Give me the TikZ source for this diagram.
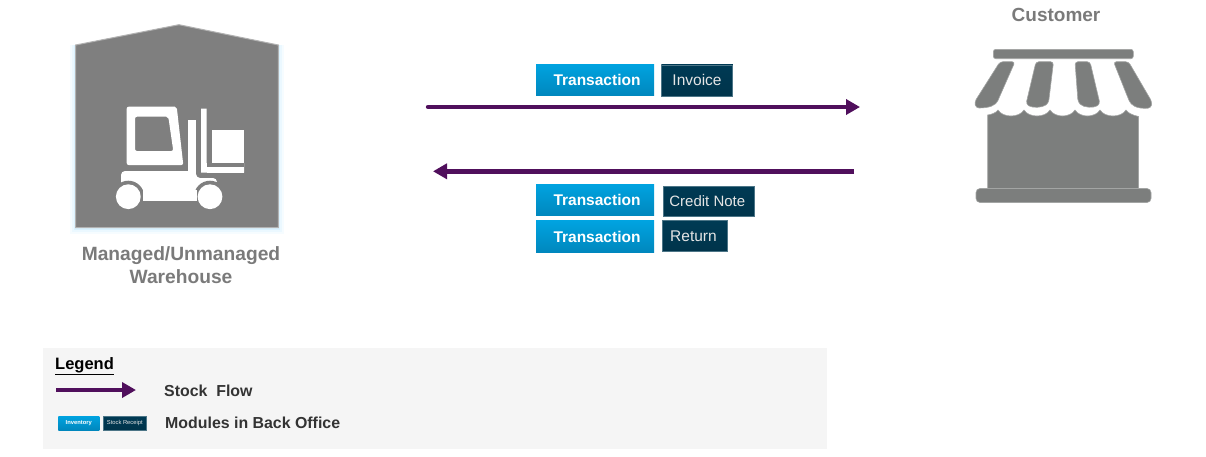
\documentclass[tikz,border=0pt]{standalone}
\usepackage{fontspec}
\setmainfont{Liberation Sans}
\usetikzlibrary{arrows.meta}
\definecolor{flow}{HTML}{500F5C}
\definecolor{bluebox}{HTML}{00A3E0}
\definecolor{blueboxb}{HTML}{0087BD}
\definecolor{darkbox}{HTML}{003A54}
\definecolor{darkboxb}{HTML}{00344B}
\definecolor{icongrey}{HTML}{7F7F7F}
\definecolor{shopgrey}{HTML}{7C7E7D}
\definecolor{labelgrey}{HTML}{7A7A7A}
\definecolor{legendbg}{HTML}{F5F5F5}
\definecolor{legendtext}{HTML}{333333}
\tikzset{
  x=1pt,y=-1pt,
  txbox/.style={inner sep=0pt,outer sep=0pt,minimum width=118pt,minimum height=31.5pt,
    top color=bluebox,middle color=bluebox,bottom color=blueboxb,text=white,
    font=\fontsize{15.5}{17}\selectfont\bfseries},
  docbox/.style={inner sep=0pt,outer sep=0pt,minimum height=31pt,draw=darkbox!70!white,line width=.6pt,
    top color=darkbox,bottom color=darkboxb,text=white!90!black,font=\fontsize{15.5}{17}\selectfont},
  flowline/.style={draw=flow,line width=4.4pt,-{Triangle[length=14pt,width=15pt]}},
  iconlabel/.style={inner sep=0pt,text=labelgrey,align=center,font=\fontsize{19.2}{23}\selectfont\bfseries},
  legendlabel/.style={inner sep=0pt,anchor=west,text=legendtext,font=\fontsize{15.9}{18}\selectfont\bfseries},
  whitepart/.style={fill=white,draw=none},
  shoppart/.style={fill=shopgrey,draw=shopgrey!70!white,line width=.6pt,rounded corners=2.5pt},
}
\begin{document}
\begin{tikzpicture}
\useasboundingbox (0,0) rectangle (1206,456);
% warehouse glow
\foreach \g/\o in {6/.06,4/.08,2/.12}{
  \fill[blue!35!cyan!60!white,opacity=\o] (75.7-\g,45) -- (278.3+\g,45) -- (278.3+\g,227.7+\g) -- (75.7-\g,227.7+\g) -- cycle;
}
% warehouse
\draw[fill=icongrey,draw=black!30,line width=1pt] (75.7,45) -- (179,24.7) -- (278.3,45) -- (278.3,227.7) -- (75.7,227.7) -- cycle;
% forklift
\fill[whitepart,rounded corners=2pt,even odd rule]
  (126.7,106.7) -- (176.7,106.7) -- (183.3,165) -- (126.7,165) -- cycle
  (135,116.7) -- (168.3,116.7) -- (173.3,151) -- (135,151) -- cycle;
\fill[whitepart] (187.7,120) rectangle (195.7,175);
\fill[whitepart] (201,108.7) -- (206.5,108.7) -- (206.5,163) -- (244,163) -- (244,172.5) -- (201,172.5) -- cycle;
\fill[icongrey] (206.5,158) rectangle (244,166.7);
\fill[whitepart] (206.5,166.7) rectangle (244,172.5);
\fill[whitepart] (211.5,130) rectangle (244,162.7);
\fill[whitepart,rounded corners=4pt] (121,186) -- (121,171) -- (196,171) -- (196,178) -- (217,178) -- (217,186) -- (200,200.7) -- (125,200.7) -- cycle;
\fill[icongrey] (128.3,196.7) circle (16);
\fill[icongrey] (210,196.7) circle (16);
\fill[whitepart] (143,190) rectangle (197,200.7);
\fill[whitepart] (128.3,196.7) circle (12.4);
\fill[whitepart] (210,196.7) circle (12.4);
% shop
\path[shoppart] (993.3,49.3) rectangle (1133.3,58.7);
\path[shoppart,rounded corners=3pt] (1000,61.7) -- (1015,61.7) -- (999,98) .. controls (996,105) and (990,108) .. (976,108) -- (974.5,102) -- cycle;
\path[shoppart,rounded corners=3pt] (1036,61.7) -- (1053.5,61.7) -- (1048.5,103) .. controls (1042,108) and (1032,108) .. (1026,104) -- cycle;
\path[shoppart,rounded corners=3pt] (1075,61.7) -- (1090,61.7) -- (1100,104) .. controls (1094,108) and (1084,108) .. (1078,102) -- cycle;
\path[shoppart,rounded corners=3pt] (1113.5,61.7) -- (1128.5,61.7) -- (1152,102) -- (1151,108) .. controls (1136,109) and (1131,105) .. (1128,98) -- cycle;
\path[fill=shopgrey,draw=shopgrey!70!white,line width=.6pt] (987.7,115) .. controls (991,114.5) and (996,113) .. (998,110)
  .. controls (1003,118) and (1019,118) .. (1024,110)
  .. controls (1029,118) and (1045,118) .. (1050,110)
  .. controls (1055,118) and (1070,118) .. (1075,110)
  .. controls (1080,118) and (1095,118) .. (1100,110)
  .. controls (1105,118) and (1121,118) .. (1126,110)
  .. controls (1128,113) and (1132,115) .. (1138.5,116.5)
  -- (1138.5,190) -- (987.7,190) -- cycle;
\path[shoppart,rounded corners=4pt] (976,188.5) rectangle (1151,202.5);
% labels
\node[iconlabel] (wh) at (181,265.5) {Managed/Unmanaged\\Warehouse};
\node[iconlabel,font=\fontsize{19}{23}\selectfont\bfseries] (cust) at (1056,15) {Customer};
% modules
\node[txbox] (t1) at (595,79.9) {\hspace*{4pt}\raisebox{-1pt}{Transaction}};
\node[docbox,minimum width=71.5pt] (d1) at (697,80.4) {\raisebox{-1pt}{Invoice}};
\node[txbox] (t2) at (595,200) {\hspace*{4pt}\raisebox{-2pt}{Transaction}};
\node[docbox,minimum width=91pt,minimum height=30pt,font=\fontsize{15}{17}\selectfont] (d2) at (708.8,201) {\hspace*{-3pt}Credit Note};
\node[txbox] (t3) at (595,236.7) {\hspace*{4pt}\raisebox{-2.5pt}{Transaction}};
\node[docbox,minimum width=64.5pt] (d3) at (695,236) {\hspace*{-3pt}\raisebox{-1pt}{Return}};
% flows
\coordinate (a1s) at (428,107);
\coordinate (a1e) at (860,107);
\coordinate (a2s) at (854,171.3);
\coordinate (a2e) at (433,171.3);
\draw[flowline,line cap=round] (a1s) -- (a1e);
\draw[flowline] (a2s) -- (a2e);
% legend
\fill[legendbg] (43,348) rectangle (827,449);
\node[inner sep=0pt,anchor=west,text=black,font=\fontsize{16.5}{18}\selectfont\bfseries] (lg) at (55,366) {\underline{Legend}};
\coordinate (l1s) at (56,390);
\coordinate (l1e) at (136,390);
\draw[flowline] (l1s) -- (l1e);
\node[legendlabel] (sf) at (164,390.5) {Stock\ \ Flow};
\node[txbox,minimum width=41pt,minimum height=14pt,font=\fontsize{5.8}{6}\selectfont\bfseries] (li) at (78.8,423) {Inventory};
\node[docbox,minimum width=43.5pt,minimum height=13.5pt,line width=.3pt,font=\fontsize{5.8}{6}\selectfont] (ls) at (124.8,423) {Stock Receipt};
\node[legendlabel] (mb) at (165,422.5) {Modules in Back Office};
\end{tikzpicture}
\end{document}
